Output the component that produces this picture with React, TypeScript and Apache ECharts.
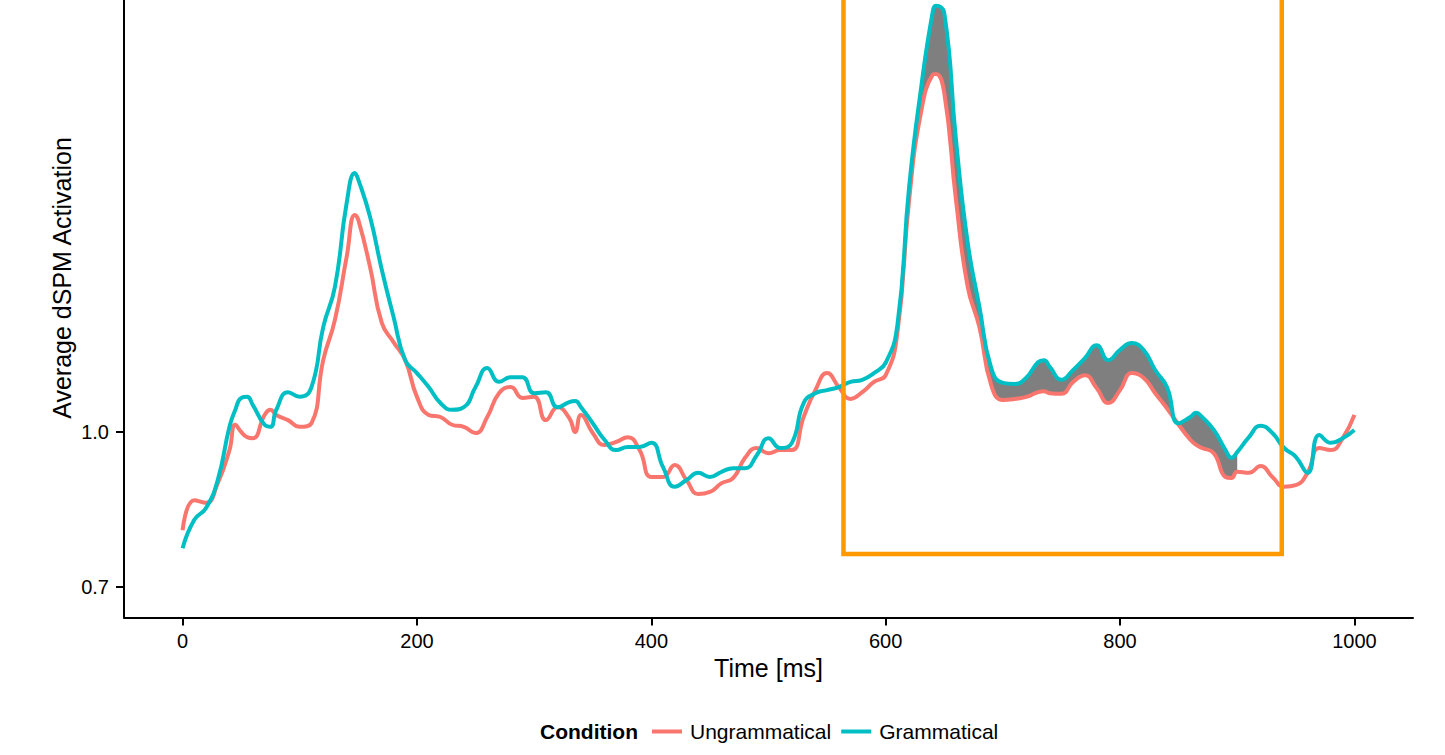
import React, { useEffect, useRef } from "react";
import * as echarts from "echarts";

// Time points (ms)
const times = [0, 10, 20, 30, 40, 45, 50, 55, 60, 70, 75, 80, 90, 100, 110, 120, 130, 140, 147, 150, 160, 170, 180, 190, 200, 210, 220, 230, 240, 250, 260, 270, 280, 290, 300, 310, 320, 330, 335, 340, 350, 360, 370, 380, 390, 400, 410, 420, 430, 440, 450, 460, 470, 480, 490, 500, 510, 520, 530, 540, 550, 560, 570, 580, 590, 600, 610, 620, 630, 640, 643, 650, 660, 670, 680, 690, 700, 710, 720, 730, 735, 740, 750, 760, 770, 780, 790, 800, 810, 820, 830, 840, 850, 860, 865, 870, 880, 890, 895, 900, 910, 920, 930, 940, 950, 960, 970, 980, 990, 1000];

const ungrammatical = [0.810, 0.868, 0.863, 0.901, 0.965, 1.014, 1.000, 0.990, 0.988, 1.033, 1.043, 1.033, 1.023, 1.010, 1.017, 1.139, 1.217, 1.339, 1.420, 1.410, 1.319, 1.211, 1.174, 1.139, 1.068, 1.033, 1.029, 1.014, 1.010, 0.998, 1.029, 1.075, 1.087, 1.066, 1.068, 1.023, 1.048, 1.027, 1.000, 1.033, 0.998, 0.975, 0.981, 0.990, 0.965, 0.913, 0.913, 0.936, 0.907, 0.880, 0.884, 0.901, 0.911, 0.950, 0.969, 0.959, 0.965, 0.965, 1.029, 1.081, 1.114, 1.087, 1.064, 1.077, 1.097, 1.110, 1.192, 1.449, 1.617, 1.691, 1.693, 1.656, 1.449, 1.281, 1.203, 1.091, 1.062, 1.064, 1.068, 1.077, 1.079, 1.075, 1.074, 1.097, 1.110, 1.085, 1.056, 1.081, 1.114, 1.105, 1.075, 1.046, 1.014, 0.985, 0.975, 0.969, 0.959, 0.913, 0.911, 0.923, 0.921, 0.934, 0.913, 0.894, 0.897, 0.921, 0.969, 0.965, 0.988, 1.033];

const grammatical = [0.775, 0.830, 0.853, 0.907, 1.010, 1.043, 1.066, 1.068, 1.052, 1.014, 1.010, 1.043, 1.077, 1.068, 1.087, 1.203, 1.281, 1.443, 1.501, 1.488, 1.416, 1.314, 1.223, 1.139, 1.114, 1.087, 1.056, 1.043, 1.048, 1.087, 1.124, 1.097, 1.106, 1.106, 1.075, 1.077, 1.048, 1.058, 1.060, 1.048, 1.017, 0.985, 0.965, 0.971, 0.971, 0.979, 0.932, 0.894, 0.907, 0.921, 0.913, 0.923, 0.930, 0.930, 0.955, 0.988, 0.969, 0.979, 1.056, 1.075, 1.081, 1.087, 1.097, 1.101, 1.114, 1.134, 1.207, 1.474, 1.662, 1.811, 1.825, 1.811, 1.565, 1.366, 1.242, 1.124, 1.095, 1.093, 1.105, 1.135, 1.139, 1.126, 1.101, 1.120, 1.143, 1.168, 1.139, 1.159, 1.172, 1.159, 1.120, 1.087, 1.017, 1.029, 1.037, 1.029, 1.004, 0.965, 0.950, 0.961, 0.990, 1.012, 0.998, 0.969, 0.952, 0.921, 0.994, 0.979, 0.988, 1.004];

const xTicks = [0, 200, 400, 600, 800, 1000];
const yTicks = [0.7, 1.0];
const shadedWindow = [610, 900];
const boxTimes = [564, 938];
const boxValues = [0.764, 1.93];

const RED = "#F8766D";
const TEAL = "#00BFC4";
const FONT = "Liberation Sans, Arial, Helvetica, sans-serif";

export default function App() {
  const ref = useRef<HTMLDivElement>(null);

  useEffect(() => {
    if (!ref.current) return;
    const chart = echarts.init(ref.current, undefined, { renderer: "svg" });

    const redData = times.map((t, i) => [t, ungrammatical[i]]);
    const tealData = times.map((t, i) => [t, grammatical[i]]);
    const inWin = times
      .map((t, i) => i)
      .filter((i) => times[i] >= shadedWindow[0] && times[i] <= shadedWindow[1]);
    const first = inWin[0];
    const last = inWin[inWin.length - 1];
    // gray: area under grammatical within the window
    const fillTop = inWin.map((i) => [times[i], grammatical[i]]);
    // white cover: area under ungrammatical, one sample wider on each side to hide seams
    const coverIdx = times
      .map((t, i) => i)
      .filter((i) => i >= first - 1 && i <= last + 1);
    const fillBottom = coverIdx.map((i) => [times[i], ungrammatical[i]]);

    const smooth = 0.5;

    chart.setOption({
      animation: false,
      textStyle: { fontFamily: FONT },
      title: {
        text: "Condition",
        left: 540,
        top: 721,
        textStyle: { fontFamily: FONT, fontSize: 21, fontWeight: "bold", color: "#000" },
        padding: 0,
      },
      legend: {
        data: ["Ungrammatical", "Grammatical"],
        left: 652,
        top: 721,
        icon: "rect",
        itemWidth: 30,
        itemHeight: 4,
        itemGap: 10,
        padding: 0,
        textStyle: { fontFamily: FONT, fontSize: 21, color: "#000", padding: [0, 0, 0, 3] },
      },
      graphic: [
        {
          type: "text",
          x: 62,
          y: 278,
          rotation: Math.PI / 2,
          style: {
            text: "Average dSPM Activation",
            fontFamily: FONT,
            fontSize: 25,
            fill: "#000",
            align: "center",
            verticalAlign: "middle",
          },
        },
      ],
      grid: { left: 124, right: 32, top: 0, bottom: 137.5, containLabel: false },
      xAxis: {
        type: "value",
        min: -50,
        max: 1050,
        name: "Time [ms]",
        nameLocation: "middle",
        nameGap: 34,
        nameTextStyle: { fontFamily: FONT, fontSize: 25, color: "#000" },
        axisLine: { show: true, onZero: false, lineStyle: { color: "#000", width: 2 } },
        axisTick: { show: true, length: 8, customValues: xTicks, lineStyle: { color: "#000", width: 2 } },
        axisLabel: {
          customValues: xTicks,
          margin: 13,
          fontFamily: FONT,
          fontSize: 20,
          color: "#000",
          formatter: (v: number) => String(v),
        },
        splitLine: { show: false },
        z: 5,
      },
      yAxis: {
        type: "value",
        min: 0.641,
        max: 1.836,
        axisLine: { show: true, onZero: false, lineStyle: { color: "#000", width: 2 } },
        axisTick: { show: true, length: 8, customValues: yTicks, lineStyle: { color: "#000", width: 2 } },
        axisLabel: {
          customValues: yTicks,
          margin: 15,
          fontFamily: FONT,
          fontSize: 20,
          color: "#000",
          formatter: (v: number) => v.toFixed(1),
        },
        splitLine: { show: false },
        z: 5,
      },
      series: [
        {
          name: "fillTop",
          type: "line",
          data: fillTop,
          smooth,
          symbol: "none",
          lineStyle: { width: 0, opacity: 0 },
          areaStyle: { color: "#7F7F7F", opacity: 1, origin: "start" },
          silent: true,
          z: 1,
        },
        {
          name: "fillBottom",
          type: "line",
          data: fillBottom,
          smooth,
          symbol: "none",
          lineStyle: { width: 0, opacity: 0 },
          areaStyle: { color: "#FFFFFF", opacity: 1, origin: "start" },
          silent: true,
          z: 2,
        },
        {
          name: "Ungrammatical",
          type: "line",
          data: redData,
          smooth,
          symbol: "none",
          color: RED,
          itemStyle: { color: RED },
          lineStyle: { color: RED, width: 4 },
          z: 3,
        },
        {
          name: "Grammatical",
          type: "line",
          data: tealData,
          smooth,
          symbol: "none",
          color: TEAL,
          itemStyle: { color: TEAL },
          lineStyle: { color: TEAL, width: 4 },
          z: 4,
        },
        {
          name: "box",
          type: "custom",
          silent: true,
          z: 10,
          data: [[boxTimes[0], boxValues[0], boxTimes[1], boxValues[1]]],
          renderItem: (params: any, api: any) => {
            const p1 = api.coord([api.value(0), api.value(3)]);
            const p2 = api.coord([api.value(2), api.value(1)]);
            return {
              type: "rect",
              shape: { x: p1[0], y: p1[1], width: p2[0] - p1[0], height: p2[1] - p1[1] },
              style: { fill: "none", stroke: "#FF9900", lineWidth: 4.5 },
            };
          },
        },
      ],
    });

    return () => chart.dispose();
  }, []);

  return <div ref={ref} style={{ width: 1445, height: 755, position: "absolute", left: 0, top: 0 }} />;
}
